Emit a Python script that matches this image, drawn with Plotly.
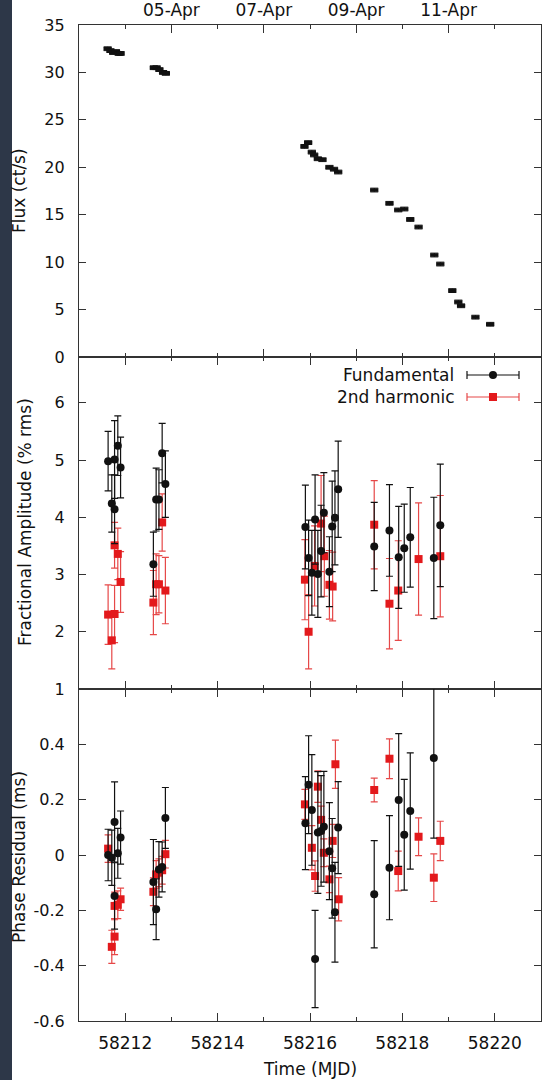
import plotly.graph_objects as go
from plotly.subplots import make_subplots

# ---------------- data ----------------
flux_mjd = [58211.62, 58211.68, 58211.74, 58211.80, 58211.86, 58211.90,
            58212.62, 58212.68, 58212.74, 58212.82, 58212.88,
            58215.88, 58215.96, 58216.04, 58216.09, 58216.17, 58216.27, 58216.42, 58216.52, 58216.61,
            58217.39, 58217.72, 58217.91, 58218.04, 58218.17, 58218.35, 58218.69, 58218.82,
            58219.08, 58219.21, 58219.27, 58219.58, 58219.90]
flux_val = [32.5, 32.3, 32.1, 32.2, 32.0, 32.0,
            30.5, 30.5, 30.3, 30.0, 29.9,
            22.2, 22.6, 21.6, 21.3, 20.9, 20.8, 20.0, 19.8, 19.5,
            17.6, 16.2, 15.5, 15.6, 14.5, 13.7, 10.75, 9.8,
            7.0, 5.8, 5.4, 4.2, 3.45]
flux_xerr = [0.09] * len(flux_mjd)
flux_yerr = [0.2] * len(flux_mjd)

amp_fund_mjd = [58211.63, 58211.71, 58211.77, 58211.77, 58211.84, 58211.90,
                58212.61, 58212.67, 58212.73, 58212.80, 58212.87,
                58215.90, 58215.97, 58216.04, 58216.11, 58216.17, 58216.24, 58216.30,
                58216.42, 58216.48, 58216.54, 58216.61,
                58217.39, 58217.72, 58217.92, 58218.04, 58218.17, 58218.68, 58218.82]
amp_fund = [4.98, 4.24, 5.01, 4.14, 5.25, 4.87,
            3.18, 4.31, 4.31, 5.12, 4.58,
            3.83, 3.29, 3.03, 3.96, 3.01, 3.41, 4.08,
            3.05, 3.84, 3.99, 4.49,
            3.49, 3.77, 3.30, 3.46, 3.65, 3.29, 3.86]
amp_fund_err = [0.52, 0.50, 0.68, 0.60, 0.52, 0.53,
                0.56, 0.55, 0.52, 0.52, 0.58,
                0.73, 0.66, 0.74, 0.78, 0.76, 0.80, 0.70,
                0.61, 0.79, 0.82, 0.84,
                0.77, 0.80, 0.89, 0.77, 0.87, 1.06, 1.07]

amp_harm_mjd = [58211.63, 58211.71, 58211.77, 58211.77, 58211.84, 58211.90,
                58212.61, 58212.67, 58212.73, 58212.80, 58212.87,
                58215.89, 58215.97, 58216.10, 58216.24, 58216.31, 58216.42, 58216.49,
                58217.39, 58217.72, 58217.91, 58218.35, 58218.82]
amp_harm = [2.30, 1.85, 2.31, 3.51, 3.36, 2.87,
            2.51, 2.83, 2.83, 3.91, 2.72,
            2.91, 2.00, 3.15, 3.89, 3.32, 2.82, 2.79,
            3.87, 2.49, 2.72, 3.27, 3.32]
amp_harm_err = [0.52, 0.50, 0.50, 0.40, 0.45, 0.53,
                0.56, 0.53, 0.50, 0.50, 0.58,
                0.70, 0.65, 0.70, 0.84, 0.70, 0.60, 0.60,
                0.77, 0.79, 0.87, 0.98, 1.06]

ph_fund_mjd = [58211.63, 58211.71, 58211.77, 58211.77, 58211.84, 58211.90,
               58212.61, 58212.67, 58212.73, 58212.80, 58212.87,
               58215.90, 58215.97, 58216.04, 58216.11, 58216.17, 58216.24, 58216.30,
               58216.42, 58216.48, 58216.54, 58216.61,
               58217.39, 58217.72, 58217.92, 58218.04, 58218.17, 58218.68]
ph_fund = [0.000, -0.010, 0.119, -0.148, 0.006, 0.063,
           -0.098, -0.196, -0.052, -0.043, 0.134,
           0.115, 0.254, 0.163, -0.376, 0.081, 0.087, 0.102,
           0.014, -0.048, -0.207, 0.099,
           -0.142, -0.046, 0.199, 0.073, 0.159, 0.351]
ph_fund_err = [0.093, 0.100, 0.145, 0.120, 0.090, 0.096,
               0.154, 0.110, 0.100, 0.090, 0.110,
               0.168, 0.177, 0.200, 0.176, 0.220, 0.200, 0.200,
               0.175, 0.180, 0.180, 0.166,
               0.194, 0.188, 0.240, 0.200, 0.210, 0.290]

ph_harm_mjd = [58211.63, 58211.71, 58211.77, 58211.77, 58211.84, 58211.90,
               58212.61, 58212.67, 58212.73, 58212.80, 58212.87,
               58215.89, 58216.04, 58216.11, 58216.17, 58216.24, 58216.30,
               58216.42, 58216.49, 58216.55, 58216.62,
               58217.39, 58217.72, 58217.91, 58218.35, 58218.68, 58218.82]
ph_harm = [0.023, -0.332, -0.295, -0.184, -0.180, -0.160,
           -0.133, -0.070, -0.064, -0.055, 0.003,
           0.183, 0.026, -0.076, 0.247, 0.127, 0.008,
           -0.088, 0.051, 0.328, -0.160,
           0.235, 0.348, -0.058, 0.066, -0.082, 0.051]
ph_harm_err = [0.050, 0.060, 0.065, 0.050, 0.050, 0.040,
               0.050, 0.050, 0.050, 0.050, 0.050,
               0.054, 0.080, 0.055, 0.057, 0.050, 0.050,
               0.048, 0.060, 0.087, 0.078,
               0.043, 0.072, 0.072, 0.068, 0.086, 0.071]

date_mjd = [58213, 58215, 58217, 58219]
date_labels = ["05-Apr", "07-Apr", "09-Apr", "11-Apr"]
mjd_ticks = [58212, 58214, 58216, 58218, 58220]
mjd_minor = [58211, 58213, 58215, 58217, 58219]

# ---------------- layout helpers ----------------
W, H = 542, 1080
L, R, T, B = 79, 1, 25, 59
PW, PH = W - L - R, H - T - B

def px(x):
    return (x - L) / PW

def py(y):
    return (H - B - y) / PH

BLACK = "#111111"
AX = "#333333"
RED = "#e3191c"
RED_ERR = "#e64848"
FONT = "DejaVu Sans"

fig = make_subplots(rows=3, cols=1, shared_xaxes=True, vertical_spacing=0)

fig.add_trace(go.Scatter(
    x=flux_mjd, y=flux_val, mode="markers",
    marker=dict(size=1, color=BLACK),
    error_x=dict(type="data", array=flux_xerr, color=BLACK, thickness=3.5, width=0),
    error_y=dict(type="data", array=flux_yerr, color=BLACK, thickness=1, width=4),
    showlegend=False), row=1, col=1)

def add_series(xs, ys, es, row, color, ecolor, symbol, name):
    fig.add_trace(go.Scatter(
        x=xs, y=ys, mode="markers", name=name,
        marker=dict(size=8, color=color, symbol=symbol, line=dict(width=0)),
        error_y=dict(type="data", array=es, color=ecolor, thickness=1.2, width=3.5),
        showlegend=False), row=row, col=1)

add_series(amp_harm_mjd, amp_harm, amp_harm_err, 2, RED, RED_ERR, "square", "2nd harmonic")
add_series(amp_fund_mjd, amp_fund, amp_fund_err, 2, BLACK, BLACK, "circle", "Fundamental")
add_series(ph_harm_mjd, ph_harm, ph_harm_err, 3, RED, RED_ERR, "square", "2nd harmonic")
add_series(ph_fund_mjd, ph_fund, ph_fund_err, 3, BLACK, BLACK, "circle", "Fundamental")

axis_common = dict(showline=True, linecolor=AX, linewidth=1.2,
                   ticks="inside", tickcolor=AX, tickwidth=1.2,
                   showgrid=False, zeroline=False, automargin=False)
xfont = dict(family=FONT, size=17, color="#111111")
yfont = dict(family=FONT, size=16, color="#111111")
minor_odd = dict(ticks="inside", tickvals=mjd_minor, ticklen=4, tickcolor=AX,
                 tickwidth=1.2, showgrid=False)

xr = [58211, 58221]
fig.update_xaxes(range=xr, tickfont=xfont, **axis_common)
fig.update_xaxes(row=1, col=1, side="top", tickmode="array", tickvals=date_mjd,
                 ticktext=date_labels, ticklen=8, mirror="ticks", ticklabelstandoff=1,
                 showticklabels=True,
                 minor=dict(ticks="inside", tickvals=mjd_ticks, ticklen=4, tickcolor=AX,
                            tickwidth=1.2, showgrid=False))
fig.update_xaxes(row=2, col=1, tickmode="array", tickvals=mjd_ticks, ticklen=8,
                 showticklabels=False, mirror="ticks", minor=minor_odd)
fig.update_xaxes(row=3, col=1, tickmode="array", tickvals=mjd_ticks,
                 ticktext=[str(v) for v in mjd_ticks], ticklen=8, mirror="ticks",
                 ticklabelstandoff=6, showticklabels=True, minor=minor_odd)

fig.update_yaxes(tickfont=yfont, **axis_common)
fig.update_yaxes(row=1, col=1, range=[0, 35], tickmode="array",
                 tickvals=[0, 5, 10, 15, 20, 25, 30, 35], ticklen=7, mirror="ticks",
                 ticklabelstandoff=10)
fig.update_yaxes(row=2, col=1, range=[1, 6.8], tickmode="array",
                 tickvals=[1, 2, 3, 4, 5, 6], ticklen=7, mirror="ticks",
                 ticklabelstandoff=10)
fig.update_yaxes(row=3, col=1, range=[-0.6, 0.6], tickmode="array",
                 tickvals=[-0.6, -0.4, -0.2, 0, 0.2, 0.4],
                 ticktext=["-0.6", "-0.4", "-0.2", "0", "0.2", "0.4"],
                 ticklen=7, mirror="ticks", ticklabelstandoff=10)

annotations = [
    dict(text="Flux (ct/s)", x=px(19), y=py(191), textangle=-90),
    dict(text="Fractional Amplitude (% rms)", x=px(25), y=py(522), textangle=-90),
    dict(text="Phase Residual (ms)", x=px(19), y=py(857), textangle=-90),
    dict(text="Time (MJD)", x=px(310), y=py(1069), textangle=0),
]
ann = []
for a in annotations:
    a.update(xref="paper", yref="paper", showarrow=False, xanchor="center", yanchor="middle",
             font=dict(family=FONT, size=17, color="#111111"))
    ann.append(a)

# manual legend (text left, sample right)
for label, yc in [("Fundamental", 375), ("2nd harmonic", 397)]:
    ann.append(dict(text=label, x=px(456), y=py(yc), xref="paper", yref="paper",
                    showarrow=False, xanchor="right", yanchor="middle",
                    font=dict(family=FONT, size=17, color="#111111")))

shapes = [dict(type="rect", xref="paper", yref="paper", x0=px(0), x1=px(12),
               y0=py(H), y1=py(0), fillcolor="#2d3748", line=dict(width=0), layer="below")]
for yc, col, ecol, kind in [(375, BLACK, BLACK, "circle"), (397, RED, RED_ERR, "rect")]:
    shapes.append(dict(type="line", xref="paper", yref="paper", x0=px(467), x1=px(519),
                       y0=py(yc), y1=py(yc), line=dict(color=ecol, width=1.2)))
    for xe in (467, 519):
        shapes.append(dict(type="line", xref="paper", yref="paper", x0=px(xe), x1=px(xe),
                           y0=py(yc - 4), y1=py(yc + 4), line=dict(color=ecol, width=1.2)))
    shapes.append(dict(type=kind, xref="paper", yref="paper", x0=px(489), x1=px(497),
                       y0=py(yc + 4), y1=py(yc - 4), fillcolor=col, line=dict(width=0)))

fig.update_layout(width=W, height=H, margin=dict(l=L, r=R, t=T, b=B, autoexpand=False),
                  paper_bgcolor="white", plot_bgcolor="white",
                  annotations=ann, shapes=shapes, showlegend=False)

fig.write_html("out.html")
